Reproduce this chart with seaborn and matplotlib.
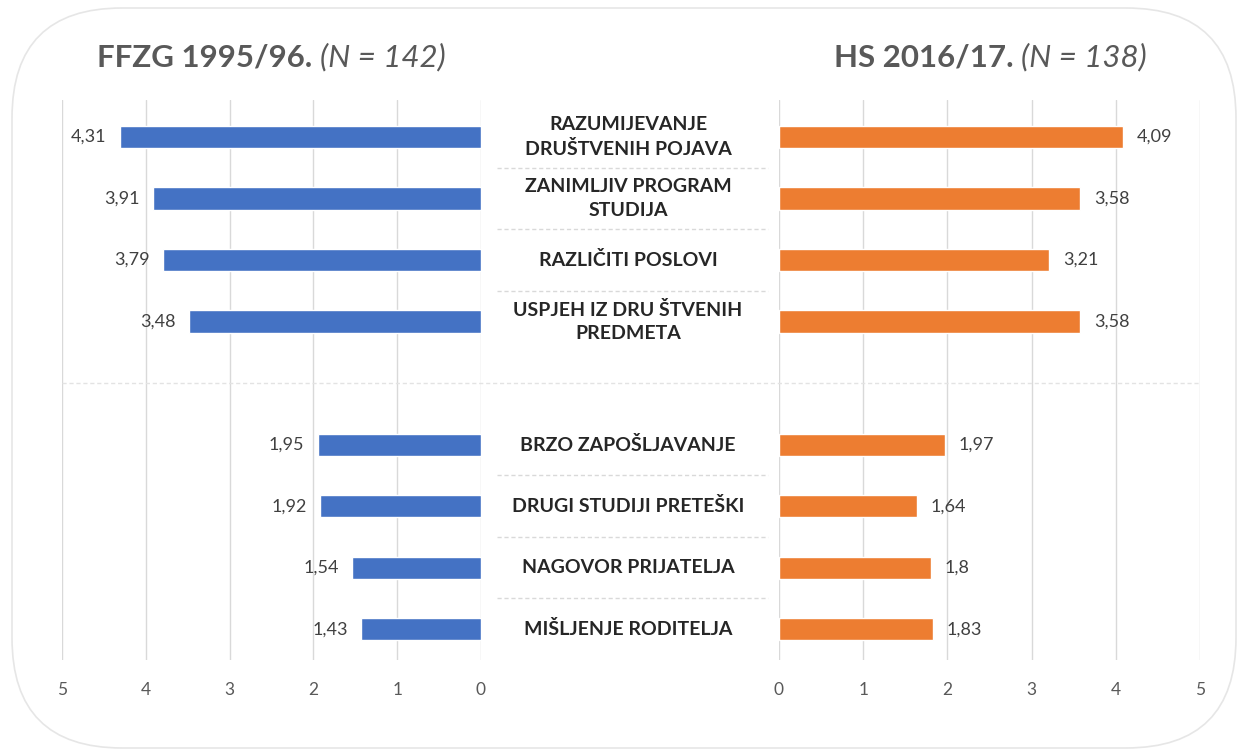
import numpy as np
import pandas as pd
import matplotlib
matplotlib.use('Agg')
import matplotlib.pyplot as plt
import matplotlib.transforms as mtransforms
from matplotlib.patches import FancyBboxPatch
from matplotlib.lines import Line2D
import seaborn as sns

# data
labels = ['RAZUMIJEVANJE\nDRUŠTVENIH POJAVA',
          'ZANIMLJIV PROGRAM\nSTUDIJA',
          'RAZLIČITI POSLOVI',
          'USPJEH IZ DRU ŠTVENIH\nPREDMETA',
          'BRZO ZAPOŠLJAVANJE',
          'DRUGI STUDIJI PRETEŠKI',
          'NAGOVOR PRIJATELJA',
          'MIŠLJENJE RODITELJA']
ffzg = [4.31, 3.91, 3.79, 3.48, 1.95, 1.92, 1.54, 1.43]
hs = [4.09, 3.58, 3.21, 3.58, 1.97, 1.64, 1.8, 1.83]
left_title = ('FFZG 1995/96.', '(N = 142)')
right_title = ('HS 2016/17.', '(N = 138)')
ticks = [0, 1, 2, 3, 4, 5]

blue = '#4472C4'
orange = '#ED7D31'
grid_c = '#D9D9D9'

sns.set_style('white')
plt.rcParams['font.family'] = ['Lato', 'DejaVu Sans']

W, H = 1248, 754
fig = plt.figure(figsize=(W / 100, H / 100), dpi=100)


def px_rect(x0, y0, x1, y1):
    return [x0 / W, 1 - y1 / H, (x1 - x0) / W, (y1 - y0) / H]


# rounded frame around the whole chart
frame = FancyBboxPatch((12, 6), W - 24, H - 14,
                       boxstyle='round,pad=0,rounding_size=110',
                       transform=mtransforms.IdentityTransform(),
                       fc='none', ec='#E6E6E6', lw=1.2, zorder=-1)
fig.patches.append(frame)

axL = fig.add_axes(px_rect(62, 100, 481, 660))
axR = fig.add_axes(px_rect(779, 100, 1200, 660))

df = pd.DataFrame({'label': labels, 'ffzg': ffzg, 'hs': hs})
# empty slot between the two groups
order = labels[:4] + [' '] + labels[4:]
slots = [order.index(l) for l in labels]

sns.barplot(data=df, x='ffzg', y='label', order=order, color=blue,
            saturation=1, width=0.36, ax=axL)
sns.barplot(data=df, x='hs', y='label', order=order, color=orange,
            saturation=1, width=0.36, ax=axR)

for ax, lim in [(axL, (5, 0)), (axR, (0, 5))]:
    ax.set_xlim(*lim)
    ax.set_ylim(8.5, -0.6)
    ax.set_xticks(ticks)
    ax.set_yticks([])
    ax.set_xlabel('')
    ax.set_ylabel('')
    ax.xaxis.grid(True, color=grid_c, lw=1)
    ax.set_axisbelow(True)
    ax.tick_params(axis='x', length=0, pad=16, labelsize=12.5, labelcolor='#595959')
    ax.patch.set_alpha(0)
    for s in ax.spines.values():
        s.set_visible(False)

# value labels
for v, s in zip(ffzg, slots):
    axL.text(v + 0.16, s, f'{v:g}'.replace('.', ','), ha='right', va='center',
             fontsize=13, color='#404040')
for v, s in zip(hs, slots):
    axR.text(v + 0.16, s, f'{v:g}'.replace('.', ','), ha='left', va='center',
             fontsize=13, color='#404040')

# category labels in the middle
tr = mtransforms.blended_transform_factory(fig.transFigure, axL.transData)
for lab, s in zip(labels, slots):
    fig.text(628 / W, s, lab, transform=tr, ha='center', va='center',
             fontsize=14, fontweight='bold', color='#262626',
             linespacing=1.45)

# dashed separators between categories
for y in [0.5, 1.5, 2.5, 5.5, 6.5, 7.5]:
    fig.add_artist(Line2D([497 / W, 768 / W], [y, y], transform=tr,
                          color=grid_c, lw=1, ls=(0, (3, 2))))
fig.add_artist(Line2D([62 / W, 1200 / W], [4, 4], transform=tr,
                      color='#E3E3E3', lw=1, ls=(0, (3, 2))))

# titles: bold part + italic part
fig.canvas.draw()
r = fig.canvas.get_renderer()
t1 = fig.text(97 / W, 1 - 57 / H, left_title[0] + ' ', ha='left', va='center',
              fontsize=22.5, fontweight='bold', color='#595959')
bb = t1.get_window_extent(r)
fig.text(bb.x1 / W, 1 - 57 / H, left_title[1], ha='left', va='center',
         fontsize=22.5, fontstyle='italic', color='#595959')

t2 = fig.text(1147 / W, 1 - 57 / H, right_title[1], ha='right', va='center',
              fontsize=22.5, fontstyle='italic', color='#595959')
bb = t2.get_window_extent(r)
fig.text(bb.x0 / W, 1 - 57 / H, right_title[0] + ' ', ha='right', va='center',
         fontsize=22.5, fontweight='bold', color='#595959')

fig.savefig('out.png', dpi=100, facecolor='white')
